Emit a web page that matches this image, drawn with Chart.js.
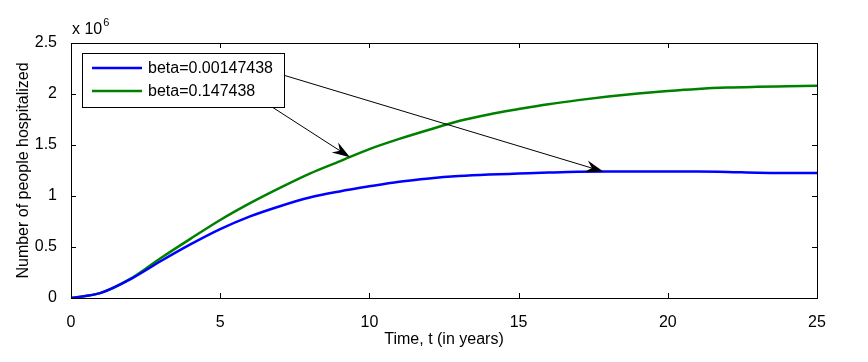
<!DOCTYPE html>
<html>
<head>
<meta charset="utf-8">
<script src="https://cdn.jsdelivr.net/npm/chart.js@4/dist/chart.umd.min.js"></script>
<style>
  html, body { margin: 0; padding: 0; background: #fff; }
  #wrap { width: 868px; height: 362px; }
</style>
</head>
<body>
<div id="wrap"><canvas id="hospChart" width="868" height="362"></canvas></div>
<script>
// time axis (years)
const years = [0, 1, 2, 3, 4, 5, 6, 7, 8, 9, 10, 11, 12, 13, 14, 15, 16, 17, 18, 19, 20, 21, 22, 23, 24, 25];

// hospitalized, in units of 10^6
const betaLow = [0, 0.05, 0.185, 0.36, 0.525, 0.675, 0.8, 0.9, 0.985, 1.045, 1.095, 1.14, 1.172, 1.195, 1.21, 1.22, 1.23, 1.238, 1.24, 1.24, 1.24, 1.24, 1.236, 1.228, 1.226, 1.226];
const betaHigh = [0, 0.05, 0.19, 0.39, 0.58, 0.765, 0.93, 1.08, 1.22, 1.34, 1.46, 1.56, 1.65, 1.735, 1.8, 1.852, 1.9, 1.94, 1.975, 2.005, 2.03, 2.05, 2.063, 2.07, 2.075, 2.08];

const seriesLabels = ['beta=0.00147438', 'beta=0.147438'];
const seriesColors = ['#0000ff', '#008000'];

const xTicks = [0, 5, 10, 15, 20, 25];
const yTicks = [0, 0.5, 1, 1.5, 2, 2.5];
const yScaleFactor = 1e6;

// annotation arrows: [from legend text, to curve] in data units (t, value/1e6)
const arrowTails = [[6.84, 2.21], [6.22, 1.97]];
const arrowTips = [[17.84, 1.24], [9.35, 1.38]];

function toPoints(vals) {
    return years.map((t, i) => ({ x: t, y: vals[i] * yScaleFactor }));
}

const FONT = 'Liberation Sans, Arial, sans-serif';
const FS = 16;

// MATLAB style frame, inward ticks, exponent label, legend and arrows
const matlabDecor = {
    id: 'matlabDecor',
    afterDatasetsDraw(chart) {
        const ctx = chart.ctx;
        const area = chart.chartArea;
        const xs = chart.scales.x, ys = chart.scales.y;
        ctx.save();

        // frame
        ctx.strokeStyle = '#000';
        ctx.lineWidth = 1;
        ctx.strokeRect(Math.round(area.left) + 0.5, Math.round(area.top) + 0.5,
            Math.round(area.right - area.left), Math.round(area.bottom - area.top));

        // inward tick marks on all sides
        const tl = 5;
        ctx.beginPath();
        xTicks.forEach(v => {
            const px = Math.round(xs.getPixelForValue(v)) + 0.5;
            ctx.moveTo(px, area.bottom); ctx.lineTo(px, area.bottom - tl);
            ctx.moveTo(px, area.top); ctx.lineTo(px, area.top + tl);
        });
        yTicks.forEach(v => {
            const py = Math.round(ys.getPixelForValue(v * yScaleFactor)) + 0.5;
            ctx.moveTo(area.left, py); ctx.lineTo(area.left + tl, py);
            ctx.moveTo(area.right, py); ctx.lineTo(area.right - tl, py);
        });
        ctx.stroke();

        // x 10^6
        ctx.fillStyle = '#000';
        ctx.textBaseline = 'alphabetic';
        ctx.textAlign = 'left';
        ctx.font = FS + 'px ' + FONT;
        ctx.fillText('x 10', area.left + 1, area.top - 9);
        const w = ctx.measureText('x 10').width;
        ctx.font = '11px ' + FONT;
        ctx.fillText('6', area.left + 2 + w, area.top - 17);

        // arrows
        ctx.strokeStyle = '#000';
        ctx.fillStyle = '#000';
        ctx.lineWidth = 1;
        arrowTails.forEach((tail, i) => {
            const x0 = xs.getPixelForValue(tail[0]), y0 = ys.getPixelForValue(tail[1] * yScaleFactor);
            const x1 = xs.getPixelForValue(arrowTips[i][0]), y1 = ys.getPixelForValue(arrowTips[i][1] * yScaleFactor);
            const ang = Math.atan2(y1 - y0, x1 - x0);
            const len = 18, half = 6, notch = 12;
            const ux = Math.cos(ang), uy = Math.sin(ang);
            const px = -uy, py = ux;
            ctx.beginPath();
            ctx.moveTo(x0, y0);
            ctx.lineTo(x1 - ux * notch, y1 - uy * notch);
            ctx.stroke();
            ctx.beginPath();
            ctx.moveTo(x1, y1);
            ctx.lineTo(x1 - ux * len + px * half, y1 - uy * len + py * half);
            ctx.lineTo(x1 - ux * notch, y1 - uy * notch);
            ctx.lineTo(x1 - ux * len - px * half, y1 - uy * len - py * half);
            ctx.closePath();
            ctx.fill();
        });

        // legend box
        const lx = area.left + 11, ly = area.top + 10, lw = 202, lh = 54;
        ctx.fillStyle = '#fff';
        ctx.fillRect(lx, ly, lw, lh);
        ctx.strokeStyle = '#000';
        ctx.lineWidth = 1;
        ctx.strokeRect(lx + 0.5, ly + 0.5, lw, lh);
        ctx.font = FS + 'px ' + FONT;
        ctx.textBaseline = 'middle';
        seriesLabels.forEach((lab, i) => {
            const yy = ly + 15 + i * 23;
            ctx.strokeStyle = seriesColors[i];
            ctx.lineWidth = 2.5;
            ctx.beginPath();
            ctx.moveTo(lx + 10, yy);
            ctx.lineTo(lx + 60, yy);
            ctx.stroke();
            ctx.fillStyle = '#000';
            ctx.fillText(lab, lx + 66, yy + 1);
        });

        ctx.restore();
    }
};

const ctx = document.getElementById('hospChart').getContext('2d');
new Chart(ctx, {
    type: 'line',
    data: {
        datasets: [
            {
                label: seriesLabels[0],
                data: toPoints(betaLow),
                borderColor: seriesColors[0],
                borderWidth: 2.5,
                pointRadius: 0,
                cubicInterpolationMode: 'monotone',
                fill: false
            },
            {
                label: seriesLabels[1],
                data: toPoints(betaHigh),
                borderColor: seriesColors[1],
                borderWidth: 2.5,
                pointRadius: 0,
                cubicInterpolationMode: 'monotone',
                fill: false
            }
        ]
    },
    options: {
        responsive: false,
        animation: false,
        layout: { padding: { top: 43, right: 51, left: 0, bottom: 0 } },
        plugins: {
            legend: { display: false },
            tooltip: { enabled: false }
        },
        scales: {
            x: {
                type: 'linear',
                min: 0,
                max: 25,
                afterBuildTicks: s => { s.ticks = xTicks.map(v => ({ value: v })); },
                afterFit: s => { s.height = 64; },
                grid: { display: false },
                border: { display: false },
                ticks: {
                    color: '#000',
                    font: { family: FONT, size: FS },
                    padding: 7,
                    maxRotation: 0
                },
                title: {
                    display: true,
                    text: 'Time, t (in years)',
                    color: '#000',
                    font: { family: FONT, size: FS },
                    padding: { top: 0, bottom: 13 }
                }
            },
            y: {
                min: 0,
                max: 2.5 * yScaleFactor,
                afterBuildTicks: s => { s.ticks = yTicks.map(v => ({ value: v * yScaleFactor })); },
                afterFit: s => { s.width = 71; },
                grid: { display: false },
                border: { display: false },
                ticks: {
                    color: '#000',
                    font: { family: FONT, size: FS },
                    padding: 6,
                    callback: v => String(v / yScaleFactor)
                },
                title: {
                    display: true,
                    text: 'Number of people hospitalized',
                    color: '#000',
                    font: { family: FONT, size: FS },
                    padding: { top: 14, bottom: 0 }
                }
            }
        }
    },
    plugins: [matlabDecor]
});
</script>
</body>
</html>
